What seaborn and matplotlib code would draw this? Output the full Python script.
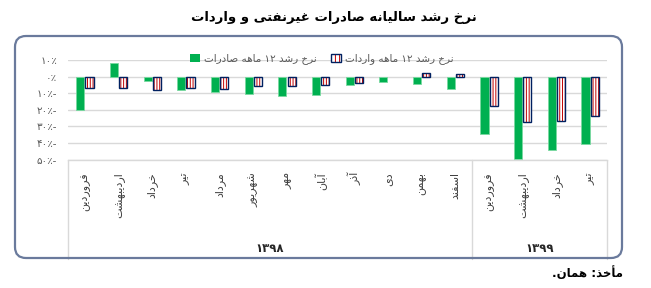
import numpy as np
import pandas as pd
import seaborn as sns
import matplotlib
matplotlib.use("Agg")
import matplotlib.pyplot as plt
from matplotlib.patches import Rectangle, FancyBboxPatch, Patch
from matplotlib.legend_handler import HandlerTuple
from matplotlib.transforms import blended_transform_factory, IdentityTransform

# ---------------- data ----------------
title = "نرخ رشد سالیانه صادرات غیرنفتی و واردات"
source = "مأخذ: همان."
years = ["۱۳۹۸", "۱۳۹۹"]
months_1398 = ["فروردین", "اردیبهشت", "خرداد", "تیر", "مرداد", "شهریور",
               "مهر", "آبان", "آذر", "دی", "بهمن", "اسفند"]
months_1399 = ["فروردین", "اردیبهشت", "خرداد", "تیر"]
series_names = ["نرخ رشد ۱۲ ماهه صادرات", "نرخ رشد ۱۲ ماهه واردات"]
exports = [-20, 8, -2.5, -8, -9.5, -10.5, -11.5, -11, -5, -3, -4.5, -7.5,
           -34.5, -49.5, -44.5, -40.5]
imports = [-7, -7, -8, -7, -7.5, -5.5, -5.5, -5, -4, 0, 2, 1.5,
           -17.5, -27.5, -27, -24]
y_ticks = [10, 0, -10, -20, -30, -40, -50]
y_tick_labels = ["۱۰٪", "۰٪", "۱۰٪-", "۲۰٪-", "۳۰٪-", "۴۰٪-", "۵۰٪-"]

# ------------- Persian shaping (no CTL in matplotlib) -------------
FORMS = {
    '\u0622': ('\uFE81', '\uFE82', None, None),
    '\u0623': ('\uFE83', '\uFE84', None, None),
    '\u0627': ('\uFE8D', '\uFE8E', None, None),
    '\u0628': ('\uFE8F', '\uFE90', '\uFE91', '\uFE92'),
    '\u062A': ('\uFE95', '\uFE96', '\uFE97', '\uFE98'),
    '\u062E': ('\uFEA5', '\uFEA6', '\uFEA7', '\uFEA8'),
    '\u062F': ('\uFEA9', '\uFEAA', None, None),
    '\u0630': ('\uFEAB', '\uFEAC', None, None),
    '\u0631': ('\uFEAD', '\uFEAE', None, None),
    '\u0632': ('\uFEAF', '\uFEB0', None, None),
    '\u0633': ('\uFEB1', '\uFEB2', '\uFEB3', '\uFEB4'),
    '\u0634': ('\uFEB5', '\uFEB6', '\uFEB7', '\uFEB8'),
    '\u0635': ('\uFEB9', '\uFEBA', '\uFEBB', '\uFEBC'),
    '\u063A': ('\uFECD', '\uFECE', '\uFECF', '\uFED0'),
    '\u0641': ('\uFED1', '\uFED2', '\uFED3', '\uFED4'),
    '\u0644': ('\uFEDD', '\uFEDE', '\uFEDF', '\uFEE0'),
    '\u0645': ('\uFEE1', '\uFEE2', '\uFEE3', '\uFEE4'),
    '\u0646': ('\uFEE5', '\uFEE6', '\uFEE7', '\uFEE8'),
    '\u0647': ('\uFEE9', '\uFEEA', '\uFEEB', '\uFEEC'),
    '\u0648': ('\uFEED', '\uFEEE', None, None),
    '\u06CC': ('\uFEEF', '\uFEF0', '\uFEF3', '\uFEF4'),
    '\u064A': ('\uFEF1', '\uFEF2', '\uFEF3', '\uFEF4'),
}
DIGITS = set("0123456789۰۱۲۳۴۵۶۷۸۹")


def shape(s):
    out = []
    for i, c in enumerate(s):
        if c not in FORMS:
            out.append(c)
            continue
        iso, fin, ini, med = FORMS[c]
        prev = s[i - 1] if i > 0 else None
        nxt = s[i + 1] if i + 1 < len(s) else None
        jp = prev in FORMS and FORMS[prev][2] is not None
        jn = nxt in FORMS and ini is not None
        if jp and jn:
            out.append(med)
        elif jp:
            out.append(fin)
        elif jn:
            out.append(ini)
        else:
            out.append(iso)
    # visual order: reverse, keeping digit runs LTR
    runs, cur, cur_d = [], "", None
    for c in out:
        d = c in DIGITS
        if cur and d != cur_d:
            runs.append((cur, cur_d))
            cur = ""
        cur += c
        cur_d = d
    if cur:
        runs.append((cur, cur_d))
    return "".join(r if d else r[::-1] for r, d in runs[::-1])


# ---------------- style ----------------
sns.set_style("white")
plt.rcParams["font.family"] = ["DejaVu Sans"]
plt.rcParams["hatch.linewidth"] = 0.7

GREEN = "#00b050"
RED = "#c00000"
NAVY = "#002060"
GRID = "#d9d9d9"
TXT = "#595959"

months = months_1398 + months_1399
keys = [f"{years[0]}-{m}" for m in months_1398] + [f"{years[1]}-{m}" for m in months_1399]
df = pd.DataFrame({
    "key": keys * 2,
    "series": [series_names[0]] * len(keys) + [series_names[1]] * len(keys),
    "value": exports + imports,
})

fig = plt.figure(figsize=(6.51, 2.88), dpi=100)
ax = fig.add_axes([68 / 651, 1 - 159.5 / 288, 539 / 651, 99.5 / 288])

sns.barplot(data=df, x="key", y="value", hue="series", order=keys,
            hue_order=series_names, palette=[GREEN, "white"], width=0.55,
            gap=0.12, saturation=1, errorbar=None, legend=False, ax=ax)

for p in ax.containers[0]:
    p.set_edgecolor("#7ad9a0")
    p.set_linewidth(0.6)
for p in ax.containers[1]:
    p.set_facecolor("white")
    p.set_edgecolor(RED)
    p.set_linewidth(0)
    p.set_hatch("|" * 6)
    if p.get_height() != 0:
        ax.add_patch(Rectangle((p.get_x(), p.get_y()), p.get_width(), p.get_height(),
                               fill=False, edgecolor=NAVY, linewidth=1.0, zorder=p.get_zorder() + 0.1))

ax.set_xlim(-0.5, len(keys) - 0.5)
ax.set_ylim(min(y_ticks), max(y_ticks))
ax.set_yticks(y_ticks)
ax.set_yticklabels(y_tick_labels, fontsize=7.5, color=TXT)
ax.set_xticks(range(len(keys)))
ax.set_xticklabels([shape(m) for m in months], rotation=90, fontsize=8, color="#404040")
ax.tick_params(axis="x", length=0, pad=9)
ax.tick_params(axis="y", length=0, pad=8)
ax.set_xlabel("")
ax.set_ylabel("")
ax.yaxis.grid(True, color=GRID, linewidth=1)
ax.set_axisbelow(True)
for s in ["left", "right", "top"]:
    ax.spines[s].set_visible(False)
ax.spines["bottom"].set_color(GRID)
ax.spines["bottom"].set_linewidth(1)

# group separators in label area
tr = blended_transform_factory(ax.transData, ax.transAxes)
n1 = len(months_1398)
for xb in [-0.5, n1 - 0.5, len(keys) - 0.5]:
    ax.plot([xb, xb], [0, -1.0], transform=tr, color=GRID, lw=1, clip_on=False)
ax.text((n1 - 1) / 2, -0.89, years[0], transform=tr, ha="center", va="center",
        fontsize=8.5, fontweight="bold", color="#262626")
ax.text(n1 + (len(months_1399) - 1) / 2, -0.89, years[1], transform=tr, ha="center",
        va="center", fontsize=8.5, fontweight="bold", color="#262626")

# legend
h_exp = Patch(facecolor=GREEN, edgecolor="none")
h_imp = (Patch(facecolor="white", edgecolor=RED, linewidth=0, hatch="|" * 4),
         Patch(facecolor="none", edgecolor=NAVY, linewidth=1.0))
ax.legend([h_exp, h_imp], [shape(s) for s in series_names], ncol=2, loc="center",
          bbox_to_anchor=(0.471, 1.01), frameon=False, fontsize=7.5,
          labelcolor=TXT, handlelength=0.9, handleheight=0.9, handletextpad=0.4,
          columnspacing=1.4, handler_map={tuple: HandlerTuple(ndivide=1, pad=0)})

# title, frame, source
fig.text(334 / 651, 1 - 17 / 288, shape(title), ha="center", va="center",
         fontsize=9.5, fontweight="bold", color="black")
fig.patches.append(FancyBboxPatch((15, 30), 607, 222, boxstyle="round,pad=0,rounding_size=11",
                                  transform=IdentityTransform(), fill=False,
                                  edgecolor="#6a7a9c", linewidth=1.6))
fig.text(623 / 651, 1 - 273 / 288, shape(source), ha="right", va="center",
         fontsize=8.5, fontweight="bold", color="black")

fig.savefig("out.png", dpi=100)
